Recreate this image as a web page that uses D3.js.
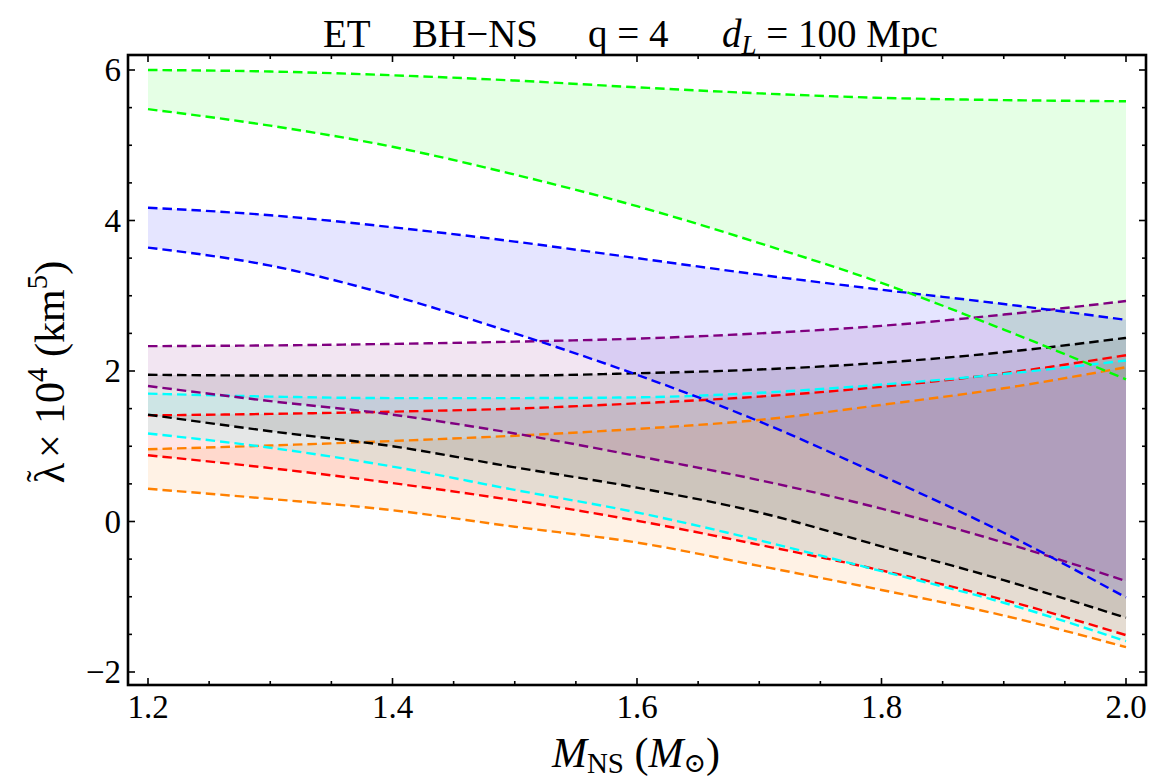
<!DOCTYPE html>
<html>
<head>
<meta charset="utf-8">
<script src="https://cdn.jsdelivr.net/npm/d3@7"></script>
<style>
  html, body { margin: 0; padding: 0; background: #fff; }
  svg { display: block; }
  text { font-family: "Liberation Serif", "DejaVu Serif", serif; fill: #000; }
</style>
</head>
<body>
<svg id="chart" width="1154" height="781"></svg>
<script>
// Neutron-star mass grid (solar masses)
const massNS = [1.2, 1.3, 1.4, 1.5, 1.6, 1.7, 1.8, 1.9, 2.0];

// Upper / lower bounds of the tidal deformability, in units of 10^4 km^5
const greenUpper  = [6.00, 5.98, 5.93, 5.86, 5.77, 5.69, 5.63, 5.60, 5.585];
const greenLower  = [5.48, 5.26, 4.98, 4.61, 4.19, 3.70, 3.17, 2.55, 1.89];
const blueUpper   = [4.17, 4.07, 3.91, 3.72, 3.50, 3.28, 3.08, 2.89, 2.68];
const blueLower   = [3.64, 3.40, 3.00, 2.50, 1.95, 1.33, 0.61, -0.15, -1.01];
const purpleUpper = [2.33, 2.34, 2.36, 2.39, 2.43, 2.50, 2.60, 2.75, 2.93];
const purpleLower = [1.80, 1.60, 1.42, 1.17, 0.87, 0.55, 0.17, -0.28, -0.79];
const blackUpper  = [1.95, 1.94, 1.94, 1.94, 1.97, 2.02, 2.11, 2.25, 2.44];
const blackLower  = [1.42, 1.20, 1.00, 0.72, 0.45, 0.12, -0.33, -0.78, -1.28];
const cyanUpper   = [1.70, 1.66, 1.64, 1.64, 1.65, 1.71, 1.82, 1.96, 2.14];
const cyanLower   = [1.17, 0.98, 0.73, 0.42, 0.12, -0.25, -0.66, -1.08, -1.59];
const redUpper    = [1.41, 1.43, 1.46, 1.50, 1.57, 1.66, 1.79, 1.97, 2.21];
const redLower    = [0.88, 0.71, 0.51, 0.28, 0.01, -0.31, -0.65, -1.04, -1.51];
const orangeUpper = [0.96, 1.01, 1.07, 1.14, 1.23, 1.35, 1.55, 1.77, 2.05];
const orangeLower = [0.435, 0.30, 0.15, -0.07, -0.28, -0.59, -0.91, -1.25, -1.67];

// Axis ticks
const xMajorTicks = [1.2, 1.4, 1.6, 1.8, 2.0];
const yMajorTicks = [-2, 0, 2, 4, 6];

const bands = [
  { color: "#00ff00", upper: greenUpper,  lower: greenLower },
  { color: "#0000ff", upper: blueUpper,   lower: blueLower },
  { color: "#800080", upper: purpleUpper, lower: purpleLower },
  { color: "#000000", upper: blackUpper,  lower: blackLower },
  { color: "#00ffff", upper: cyanUpper,   lower: cyanLower },
  { color: "#ff0000", upper: redUpper,    lower: redLower },
  { color: "#ff8000", upper: orangeUpper, lower: orangeLower }
];

const svg = d3.select("#chart");

// Frame box and data scales
const frame = { left: 128, right: 1146, top: 55, bottom: 685 };
const x = d3.scaleLinear().domain([1.2, 2.0]).range([148, 1126]);
const y = d3.scaleLinear().domain([-2, 6]).range([672, 70]);

const plot = svg.append("g");

plot.append("clipPath").attr("id", "clip")
  .append("rect")
  .attr("x", frame.left).attr("y", frame.top)
  .attr("width", frame.right - frame.left)
  .attr("height", frame.bottom - frame.top);

const body = plot.append("g").attr("clip-path", "url(#clip)");

const area = d3.area()
  .x(d => x(d.m))
  .y0(d => y(d.lo))
  .y1(d => y(d.hi))
  .curve(d3.curveMonotoneX);

const line = d3.line()
  .x(d => x(d.m))
  .y(d => y(d.v))
  .curve(d3.curveMonotoneX);

// Shaded region between each pair of bounds (lowest band painted first)
bands.slice().reverse().forEach(b => {
  const pts = massNS.map((m, i) => ({ m, lo: b.lower[i], hi: b.upper[i] }));
  body.append("path")
    .attr("d", area(pts))
    .attr("fill", b.color)
    .attr("fill-opacity", 0.1)
    .attr("stroke", "none");
});

// Dashed bounding curves
bands.slice().reverse().forEach(b => {
  [b.upper, b.lower].forEach(vals => {
    const pts = massNS.map((m, i) => ({ m, v: vals[i] }));
    body.append("path")
      .attr("d", line(pts))
      .attr("fill", "none")
      .attr("stroke", b.color)
      .attr("stroke-width", 2.4)
      .attr("stroke-dasharray", "9.5,5");
  });
});

// Frame ticks (inward on all four sides)
const xMinor = d3.range(1.2, 2.0001, 0.05).map(v => +v.toFixed(2));
const yMinor = d3.range(-2, 6.0001, 0.5).map(v => +v.toFixed(2));
const isMajorX = v => xMajorTicks.some(t => Math.abs(t - v) < 1e-6);
const isMajorY = v => yMajorTicks.some(t => Math.abs(t - v) < 1e-6);

const ticks = plot.append("g").attr("stroke", "#000").attr("stroke-width", 1.6);
xMinor.forEach(v => {
  const len = isMajorX(v) ? 7 : 4;
  ticks.append("line").attr("x1", x(v)).attr("x2", x(v))
    .attr("y1", frame.bottom).attr("y2", frame.bottom - len);
  ticks.append("line").attr("x1", x(v)).attr("x2", x(v))
    .attr("y1", frame.top).attr("y2", frame.top + len);
});
yMinor.forEach(v => {
  const len = isMajorY(v) ? 7 : 4;
  ticks.append("line").attr("y1", y(v)).attr("y2", y(v))
    .attr("x1", frame.left).attr("x2", frame.left + len);
  ticks.append("line").attr("y1", y(v)).attr("y2", y(v))
    .attr("x1", frame.right).attr("x2", frame.right - len);
});

plot.append("rect")
  .attr("x", frame.left).attr("y", frame.top)
  .attr("width", frame.right - frame.left)
  .attr("height", frame.bottom - frame.top)
  .attr("fill", "none").attr("stroke", "#000").attr("stroke-width", 2.6);

// Tick labels
const fmtMinus = v => (v < 0 ? "\u2212" + Math.abs(v) : String(v));
plot.append("g").selectAll("text").data(xMajorTicks).join("text")
  .attr("x", d => x(d)).attr("y", 718)
  .attr("text-anchor", "middle")
  .attr("font-size", 33)
  .text(d => d3.format(".1f")(d));

plot.append("g").selectAll("text").data(yMajorTicks).join("text")
  .attr("x", 121).attr("y", d => y(d) + 11)
  .attr("text-anchor", "end")
  .attr("font-size", 33)
  .text(d => fmtMinus(d));

// Title, laid out as four separate pieces
const titleG = svg.append("g").attr("font-size", 39);
titleG.append("text").attr("x", 323).attr("y", 47).text("ET");
titleG.append("text").attr("x", 412).attr("y", 47).text("BH\u2212NS");
titleG.append("text").attr("x", 588).attr("y", 47).text("q = 4");
const dl = titleG.append("text").attr("x", 722).attr("y", 47);
dl.append("tspan").attr("font-style", "italic").text("d");
dl.append("tspan").attr("font-style", "italic").attr("font-size", 27).attr("dy", 7).text("L");
dl.append("tspan").attr("dy", -7).text(" = 100 Mpc");

// X axis label
const xl = svg.append("text")
  .attr("x", 636).attr("y", 767)
  .attr("text-anchor", "middle")
  .attr("font-size", 42);
xl.append("tspan").attr("font-style", "italic").text("M");
xl.append("tspan").attr("font-size", 29).attr("dy", 6).text("NS");
xl.append("tspan").attr("dy", -6).text(" (");
xl.append("tspan").attr("font-style", "italic").text("M");
xl.append("tspan").attr("font-size", 27).attr("dy", 5).text("\u2299");
xl.append("tspan").attr("dy", -5).text(")");

// Y axis label (tilde drawn as its own glyph over the lambda)
const yl = svg.append("text")
  .attr("transform", "translate(64,372) rotate(-90)")
  .attr("text-anchor", "middle")
  .attr("font-size", 42)
  .attr("xml:space", "preserve");
yl.append("tspan").text("\u03bb");
yl.append("tspan").attr("font-size", 34).attr("dx", -19).attr("dy", -14).text("\u02dc");
yl.append("tspan").attr("dx", 2).attr("dy", 14).text(" \u00d7 10");
yl.append("tspan").attr("font-size", 29).attr("dy", -17).text("4");
yl.append("tspan").attr("dy", 17).text(" (km");
yl.append("tspan").attr("font-size", 29).attr("dy", -17).text("5");
yl.append("tspan").attr("dy", 17).text(")");
</script>
</body>
</html>
